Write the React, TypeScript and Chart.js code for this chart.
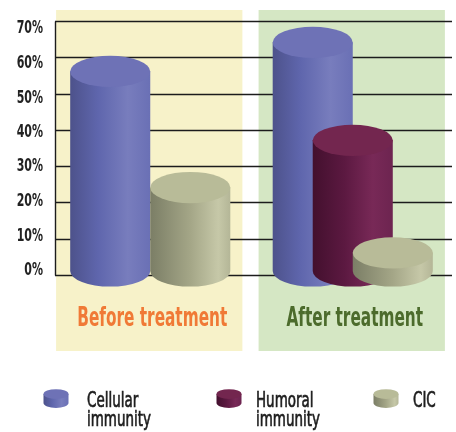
import React, { useEffect, useRef } from 'react';
import { Chart, registerables } from 'chart.js';

Chart.register(...registerables);

// ---- data ----
const categories = ['Before treatment', 'After treatment'];
const seriesNames = ['Cellular immunity', 'Humoral immunity', 'CIC'];
const cellular = [55, 63];
const humoral: (number | null)[] = [null, 36];
const cic = [23, 5];
const yTickValues = [0, 10, 20, 30, 40, 50, 60, 70];
const legendLines = [['Cellular', 'immunity'], ['Humoral', 'immunity'], ['CIC']];

// ---- style ----
const FONT = "'DejaVu Sans Condensed', 'DejaVu Sans', sans-serif";
const categoryColors = ['#f07a36', '#4c6b2c'];
const panelColors = ['#f7f2c9', '#d5e7c4'];
const palettes = [
  { body: [[0, '#4d528b'], [0.35, '#5f66ad'], [0.72, '#787dbd'], [1, '#6a70b5']], top: '#6e72b6' },
  { body: [[0, '#43102e'], [0.4, '#5c1941'], [0.75, '#782957'], [1, '#6d2450']], top: '#73264f' },
  { body: [[0, '#7b7e66'], [0.5, '#a4a687'], [0.85, '#c6c8a8'], [1, '#b4b697']], top: '#b8bb98' },
];

function drawText(ctx: CanvasRenderingContext2D, text: string, x: number, y: number, font: string, color: string, align: CanvasTextAlign, baseline: CanvasTextBaseline, sx: number, stroke = 0) {
  ctx.save();
  ctx.translate(x, y);
  ctx.scale(sx, 1);
  ctx.font = font;
  ctx.fillStyle = color;
  ctx.textAlign = align;
  ctx.textBaseline = baseline;
  ctx.fillText(text, 0, 0);
  if (stroke > 0) {
    ctx.strokeStyle = color;
    ctx.lineWidth = stroke;
    ctx.strokeText(text, 0, 0);
  }
  ctx.restore();
}

function drawCylinder(ctx: CanvasRenderingContext2D, cx: number, topY: number, baseY: number, w: number, pal: any) {
  const rx = w / 2;
  const ry = w * 0.195;
  const g = ctx.createLinearGradient(cx - rx, 0, cx + rx, 0);
  pal.body.forEach(([o, c]: [number, string]) => g.addColorStop(o, c));
  ctx.beginPath();
  ctx.moveTo(cx - rx, topY);
  ctx.lineTo(cx - rx, baseY);
  ctx.ellipse(cx, baseY, rx, ry, 0, Math.PI, 0, true);
  ctx.lineTo(cx + rx, topY);
  ctx.closePath();
  ctx.fillStyle = g;
  ctx.fill();
  ctx.beginPath();
  ctx.ellipse(cx, topY, rx, ry, 0, 0, Math.PI * 2);
  ctx.fillStyle = pal.top;
  ctx.fill();
}

const cylinderPlugin = {
  id: 'cylinders',
  beforeDraw(chart: any) {
    const { ctx, chartArea, scales } = chart;
    const x = scales.x;
    const W = x.getPixelForValue(1) - x.getPixelForValue(0);
    ctx.save();
    ctx.fillStyle = '#ffffff';
    ctx.fillRect(0, 0, chart.width, chart.height);
    categories.forEach((_, i) => {
      const c = x.getPixelForValue(i);
      const x0 = c - W * 0.465;
      const x1 = c + W * 0.455;
      ctx.fillStyle = panelColors[i];
      ctx.fillRect(x0, chartArea.top - 11, x1 - x0, chartArea.bottom - chartArea.top + 87);
    });
    ctx.restore();
  },
  beforeDatasetsDraw(chart: any) {
    const { ctx, chartArea, scales } = chart;
    const y = scales.y;
    const x = scales.x;
    const left = chartArea.left + 6;
    const right = chartArea.right - 2;
    ctx.save();
    ctx.strokeStyle = '#1c1c1c';
    ctx.lineWidth = 1.4;
    y.ticks.forEach((t: any) => {
      const py = Math.round(y.getPixelForValue(t.value)) + 0.5;
      ctx.beginPath();
      ctx.moveTo(left, py);
      ctx.lineTo(right, py);
      ctx.stroke();
      const ly = 172 + (py - 172) * 0.952;
      drawText(ctx, t.value + '%', chartArea.left - 6, ly, `bold 18px ${FONT}`, '#222222', 'right', 'middle', 0.68);
    });
    ctx.beginPath();
    ctx.moveTo(left + 0.5, Math.round(y.getPixelForValue(y.max)) + 0.5);
    ctx.lineTo(left + 0.5, Math.round(y.getPixelForValue(0)) + 0.5);
    ctx.stroke();
    categories.forEach((label, i) => {
      const c = x.getPixelForValue(i);
      drawText(ctx, label, c + 2, chartArea.bottom + 51, `bold 26px ${FONT}`, categoryColors[i], 'center', 'alphabetic', 0.655);
    });
    ctx.restore();
  },
  afterDatasetsDraw(chart: any) {
    const { ctx } = chart;
    ctx.save();
    chart.data.datasets.forEach((ds: any, di: number) => {
      const meta = chart.getDatasetMeta(di);
      meta.data.forEach((bar: any, i: number) => {
        const v = ds.data[i];
        if (v === null || v === undefined) return;
        const p = bar.getProps(['x', 'y', 'base', 'width'], true);
        drawCylinder(ctx, p.x, p.y - 4, p.base - 4, p.width, palettes[di]);
      });
    });
    ctx.restore();
  },
  afterDraw(chart: any) {
    const { ctx } = chart;
    const iconX = [56, 229, 386];
    const textX = [87, 256, 413];
    ctx.save();
    seriesNames.forEach((_, i) => {
      drawCylinder(ctx, iconX[i], 394, 403, 25, palettes[i]);
      legendLines[i].forEach((line, li) => {
        drawText(ctx, line, textX[i], 407 + li * 19, `22px ${FONT}`, '#1e1e1e', 'left', 'alphabetic', 0.68, 0.7);
      });
    });
    ctx.restore();
  },
};

export default function App() {
  const ref = useRef<HTMLCanvasElement>(null);
  useEffect(() => {
    if (!ref.current) return;
    const chart = new Chart(ref.current, {
      type: 'bar',
      data: {
        labels: categories,
        datasets: [
          { label: seriesNames[0], data: cellular, backgroundColor: 'transparent', borderWidth: 0 },
          { label: seriesNames[1], data: humoral, backgroundColor: 'transparent', borderWidth: 0 },
          { label: seriesNames[2], data: cic, backgroundColor: 'transparent', borderWidth: 0 },
        ],
      },
      options: {
        animation: false,
        responsive: false,
        layout: { padding: { top: 21, right: 2, left: 0, bottom: 0 } },
        datasets: { bar: { categoryPercentage: 0.593, barPercentage: 2.0 } },
        plugins: { legend: { display: false }, tooltip: { enabled: false } },
        scales: {
          x: {
            type: 'category',
            grid: { display: false, drawTicks: false },
            border: { display: false },
            ticks: { display: false },
            afterFit(s: any) { s.height = 157; },
          },
          y: {
            min: 0,
            max: 70,
            afterBuildTicks(s: any) { s.ticks = yTickValues.map((v) => ({ value: v })); },
            ticks: { display: false },
            grid: { display: false, drawTicks: false },
            border: { display: false },
            afterFit(s: any) { s.width = 49; },
          },
        },
      },
      plugins: [cylinderPlugin],
    } as any);
    return () => chart.destroy();
  }, []);
  return (
    <div style={{ position: 'absolute', left: 0, top: 0, width: 456, height: 432, background: '#fff' }}>
      <canvas ref={ref} width={456} height={432} style={{ display: 'block' }} />
    </div>
  );
}
